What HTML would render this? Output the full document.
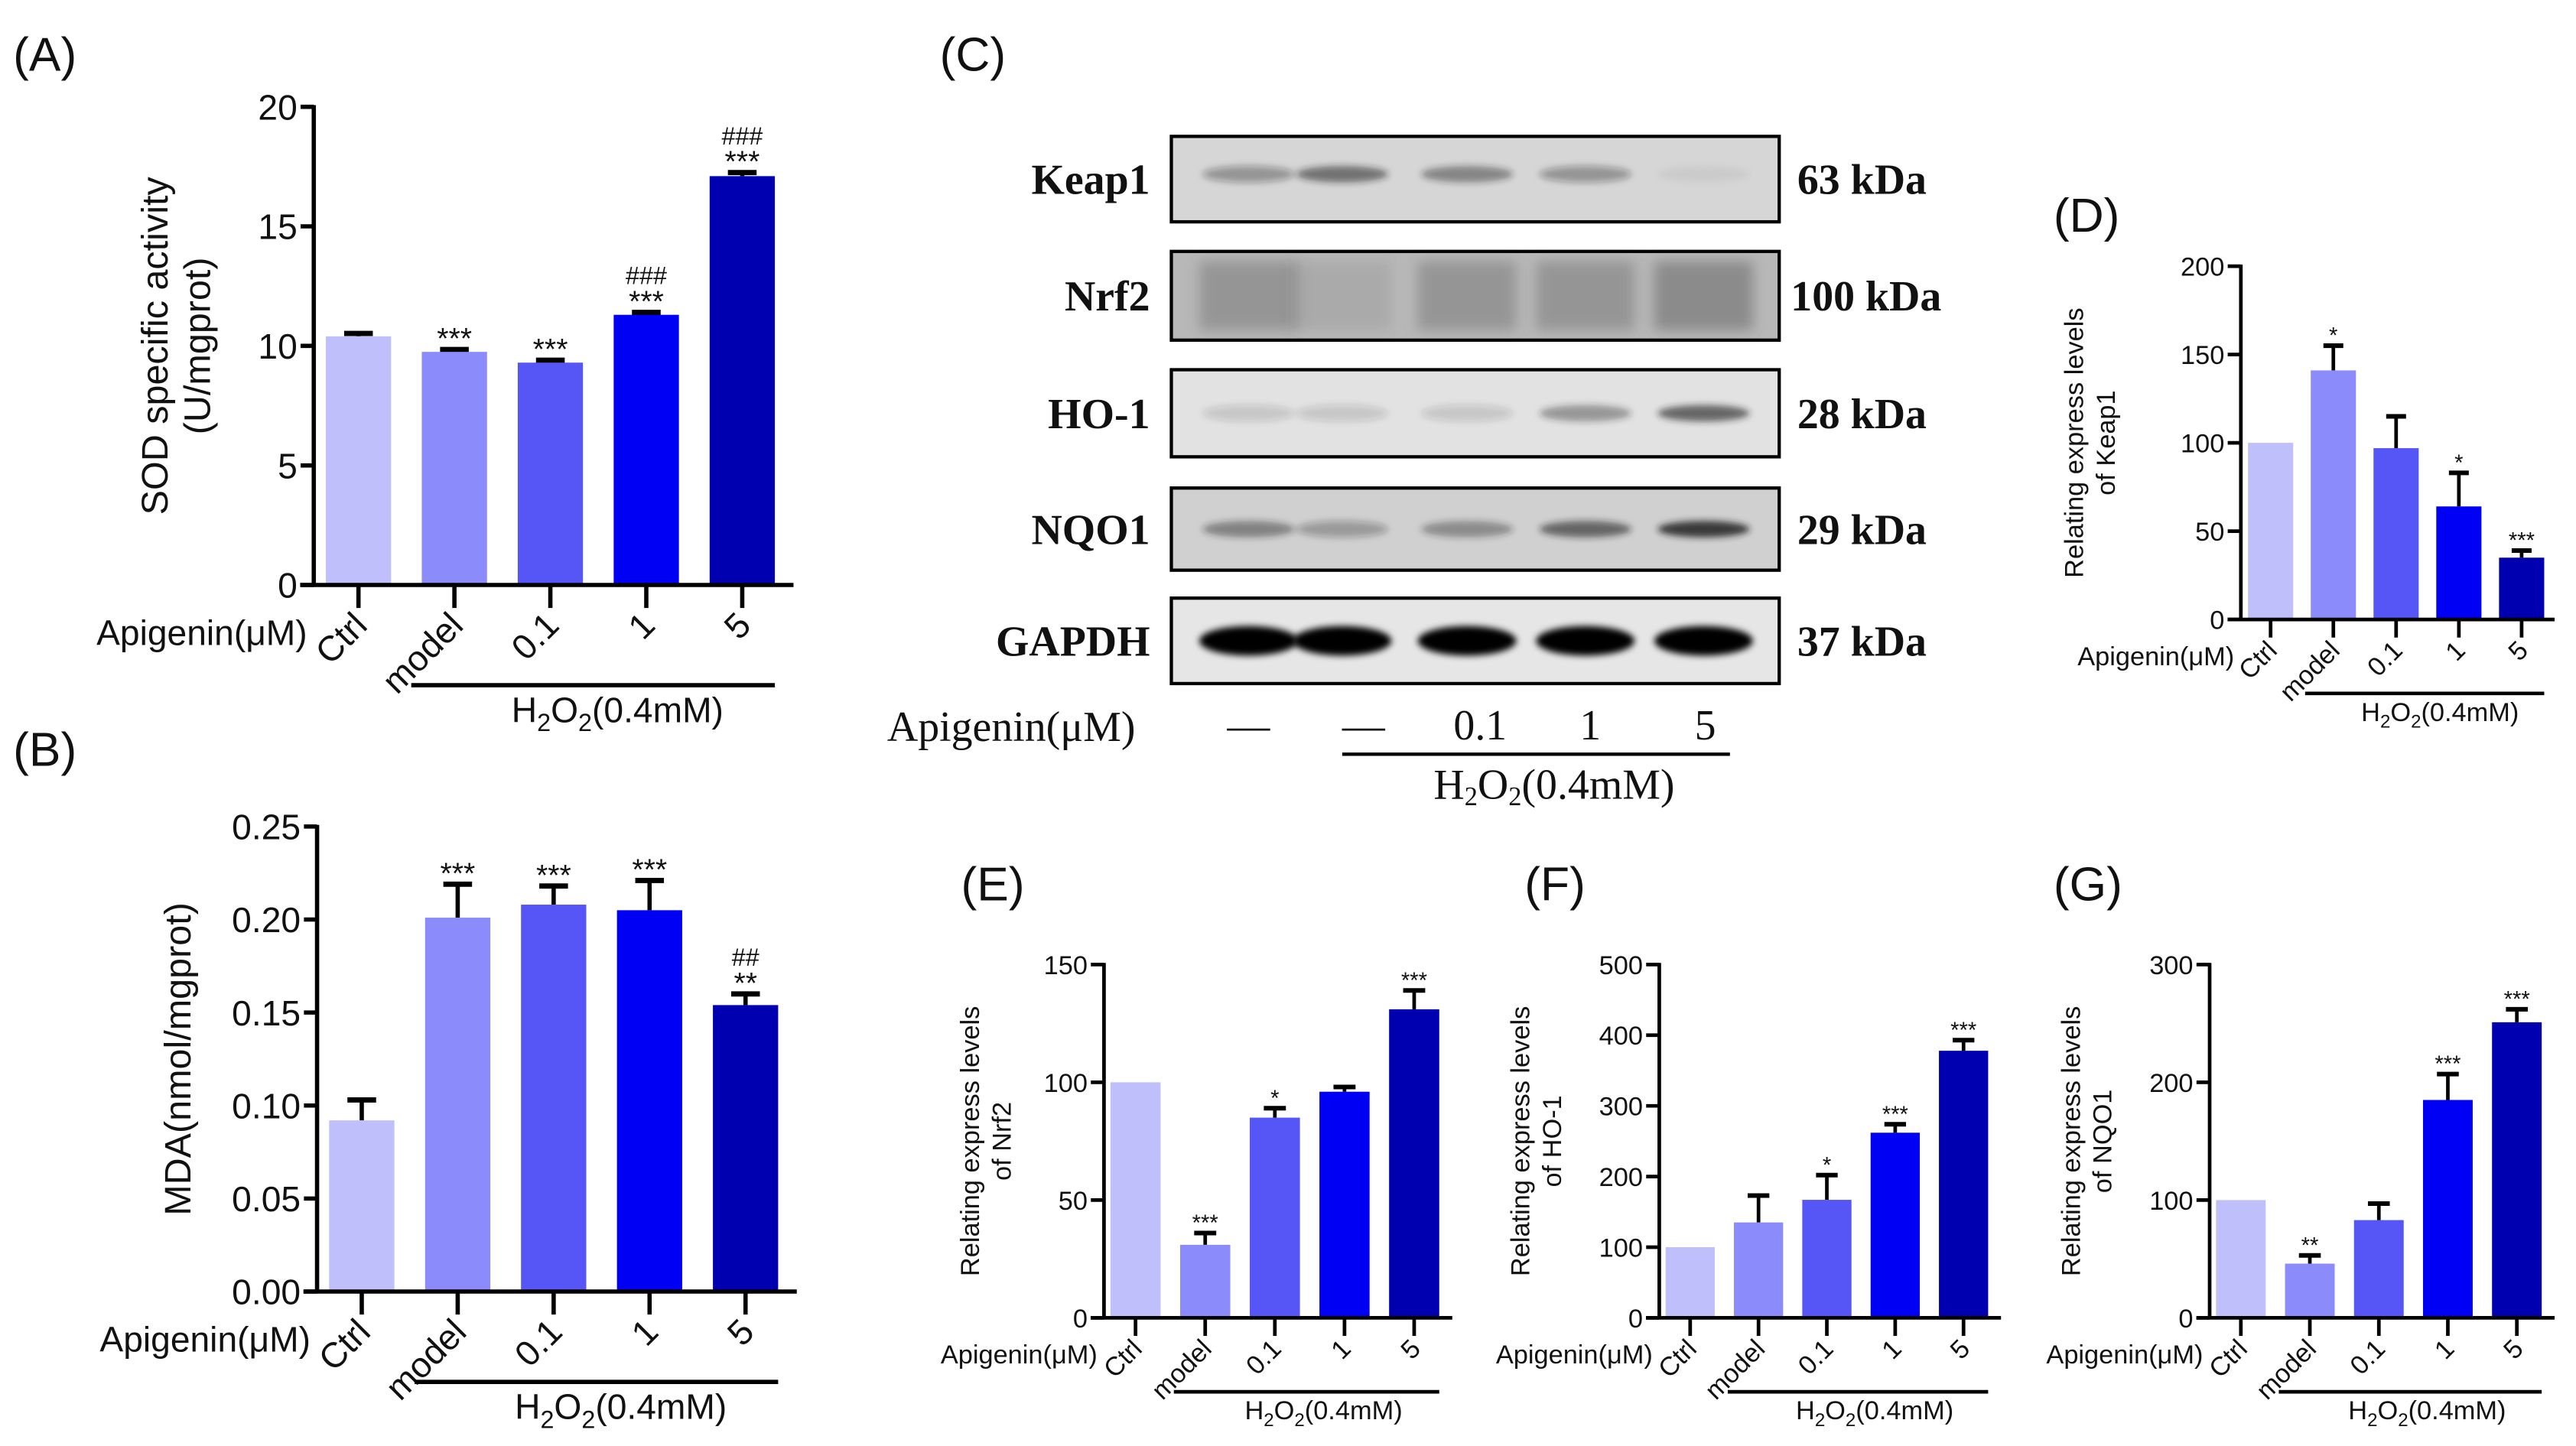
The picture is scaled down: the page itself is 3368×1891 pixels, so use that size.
<!DOCTYPE html>
<html><head><meta charset="utf-8"><style>
html,body{margin:0;padding:0;background:#fff;}
svg{display:block;}
text{font-family:"Liberation Sans",Arial,sans-serif;fill:#111;}
.serif{font-family:"Liberation Serif","Times New Roman",serif;}
</style></head><body>
<svg id="fig" width="3368" height="1891" viewBox="0 0 1568 880" preserveAspectRatio="none" xmlns="http://www.w3.org/2000/svg">
<defs>
<filter id="blur" x="-20%" y="-50%" width="140%" height="200%"><feGaussianBlur stdDeviation="4"/></filter>
<filter id="blur2" x="-20%" y="-50%" width="140%" height="200%"><feGaussianBlur stdDeviation="2"/></filter>
</defs>
<g id="root"></g>
</svg>
<script>
const categories = ["Ctrl","model","0.1","1","5"];
const colors = ["#bfbffc","#8b8bfb","#5656f7","#0000f5","#0000b0"];
// Panel A: SOD
const sodValues = [10.4, 9.75, 9.3, 11.3, 17.1];
const sodErrors = [0.12, 0.1, 0.1, 0.1, 0.15];
const sodMarks = ["", "***", "***", "###\n***", "###\n***"];
const sodTicks = [0,5,10,15,20];
// Panel B: MDA
const mdaValues = [0.092, 0.201, 0.208, 0.205, 0.154];
const mdaErrors = [0.011, 0.018, 0.010, 0.016, 0.006];
const mdaMarks = ["", "***", "***", "***", "##\n**"];
const mdaTicks = [0,0.05,0.10,0.15,0.20,0.25];
// Panel D: Keap1
const keapValues = [100, 141, 97, 64, 35];
const keapErrors = [0, 14, 18, 19, 4];
const keapMarks = ["", "*", "", "*", "***"];
const keapTicks = [0,50,100,150,200];
// Panel E: Nrf2
const nrfValues = [100, 31, 85, 96, 131];
const nrfErrors = [0, 5, 4, 2, 8];
const nrfMarks = ["", "***", "*", "", "***"];
const nrfTicks = [0,50,100,150];
// Panel F: HO-1
const hoValues = [100, 135, 167, 262, 378];
const hoErrors = [0, 38, 35, 12, 15];
const hoMarks = ["", "", "*", "***", "***"];
const hoTicks = [0,100,200,300,400,500];
// Panel G: NQO1
const nqoValues = [100, 46, 83, 185, 251];
const nqoErrors = [0, 7, 14, 22, 11];
const nqoMarks = ["", "**", "", "***", "***"];
const nqoTicks = [0,100,200,300];

const NS="http://www.w3.org/2000/svg";
const root=document.getElementById('root');
function el(tag,attrs,parent){const e=document.createElementNS(NS,tag);for(const k in attrs)e.setAttribute(k,attrs[k]);(parent||root).appendChild(e);return e;}
function txt(s,attrs,parent){const e=el('text',attrs,parent);e.textContent=s;return e;}

function chart(cfg){
  const g=el('g',{});
  
  
  const {x0,x1,yTop,yBot,ymax,fs,big}=cfg;
  const y=v=>yBot-(v/ymax)*(yBot-yTop);
  const n=categories.length, step=(x1-x0)/n;
  const xc=i=>x0+step*(i+0.5)+cfg.shift;
  const bw=step*cfg.bwFrac;
  const lw=big?2.6:2.2;
  cfg.values.forEach((v,i)=>{
    const e=cfg.errors[i];
    if(e>0){
      const ln=el('line',{x1:xc(i),x2:xc(i),y1:y(v),y2:y(v+e),stroke:'#000','stroke-width':lw},g);
      
      
      el('line',{x1:xc(i)-bw*0.22,x2:xc(i)+bw*0.22,y1:y(v+e),y2:y(v+e),stroke:'#000','stroke-width':lw+0.6},g);
    }
    const r=el('rect',{x:xc(i)-bw/2,y:y(v),width:bw,height:yBot-y(v),fill:colors[i]},g);
    
    
    const m=cfg.marks[i];
    if(m){
      const lines=m.split('\n');
      let base=y(v+e)-5;
      for(let k=lines.length-1;k>=0;k--){
        const s=lines[k];
        const isStar=s.indexOf('*')>=0;
        const sz=isStar?fs*0.85:fs*0.7;
        const t=txt(s,{x:xc(i),y:base+(isStar?sz*0.25:0),'text-anchor':'middle','font-size':sz},g);
        
        
        base-= isStar?sz*0.5+3:sz*0.85;
      }
    }
  });
  const ya=el('line',{x1:x0,x2:x0,y1:yTop-1,y2:yBot+1,stroke:'#000','stroke-width':lw},g);
  
  
  const xa=el('line',{x1:x0-lw/2-7,x2:x1,y1:yBot,y2:yBot,stroke:'#000','stroke-width':lw},g);
  
  
  cfg.ticks.forEach(t=>{
    el('line',{x1:x0-8,x2:x0,y1:y(t),y2:y(t),stroke:'#000','stroke-width':lw},g);
    const tl=txt(cfg.fmt(t),{x:x0-10,y:y(t)+fs*0.36,'text-anchor':'end','font-size':fs},g);
    
    
  });
  const tk=big?14:11;
  categories.forEach((c,i)=>{
    el('line',{x1:xc(i),x2:xc(i),y1:yBot,y2:yBot+tk,stroke:'#000','stroke-width':lw},g);
    const lx=xc(i)+fs*0.3, ly=yBot+tk+fs*0.55;
    const t=txt(c,{x:lx,y:ly,'text-anchor':'end','font-size':fs,transform:`rotate(-45 ${lx} ${ly})`},g);
    
    
  });
  const ap=txt('Apigenin(μM)',{x:x0-4,y:yBot+tk+fs*1.05,'text-anchor':'end','font-size':fs},g);
  
  
  const bl=el('line',{x1:xc(1)-step*0.45,x2:xc(4)+bw*0.5,y1:yBot+cfg.lineOff,y2:yBot+cfg.lineOff,stroke:'#000','stroke-width':lw},g);
  
  
  const h=txt('',{x:(xc(1)+xc(4))/2+step*0.2,y:yBot+cfg.lineOff+fs*1.05,'text-anchor':'middle','font-size':fs},g);
  h.innerHTML='H<tspan font-size="'+(fs*0.7)+'" dy="'+(fs*0.25)+'">2</tspan><tspan dy="'+(-fs*0.25)+'">O</tspan><tspan font-size="'+(fs*0.7)+'" dy="'+(fs*0.25)+'">2</tspan><tspan dy="'+(-fs*0.25)+'">(0.4mM)</tspan>';
  
  
  const cx=cfg.titleX, cy=(yTop+yBot)/2;
  cfg.title.forEach((s,k)=>{
    const tx=cx+k*fs*1.2;
    const t=txt(s,{x:tx,y:cy,'text-anchor':'middle','font-size':fs*(big?1.05:1),transform:`rotate(-90 ${tx} ${cy})`},g);
    
    
  });
  const pl=txt(cfg.panel,{x:cfg.px,y:cfg.py,'font-size':29},g);
  
  
}
const f0=t=>String(t), f2=t=>t.toFixed(2);
chart({name:'sod-chart',panel:'(A)',px:8,py:43,values:sodValues,errors:sodErrors,marks:sodMarks,ticks:sodTicks,ymax:20,fmt:f0,
  x0:191,x1:483,yTop:65,yBot:356,fs:21.5,big:true,bwFrac:0.68,shift:-2,lineOff:61,titleX:102,title:['SOD specific activity','(U/mgprot)']});
chart({name:'mda-chart',panel:'(B)',px:8,py:466,values:mdaValues,errors:mdaErrors,marks:mdaMarks,ticks:mdaTicks,ymax:0.25,fmt:f2,
  x0:193,x1:485,yTop:503,yBot:786,fs:21.5,big:true,bwFrac:0.68,shift:-2,lineOff:55,titleX:116,title:['MDA(nmol/mgprot)']});
chart({name:'keap1-chart',panel:'(D)',px:1250,py:141,values:keapValues,errors:keapErrors,marks:keapMarks,ticks:keapTicks,ymax:200,fmt:f0,
  x0:1364,x1:1555,yTop:162,yBot:377,fs:16,big:false,bwFrac:0.72,shift:-1,lineOff:45,titleX:1268,title:['Relating express levels','of Keap1']});
chart({name:'nrf2-chart',panel:'(E)',px:585,py:548,values:nrfValues,errors:nrfErrors,marks:nrfMarks,ticks:nrfTicks,ymax:150,fmt:f0,
  x0:672,x1:884,yTop:587,yBot:802,fs:16,big:false,bwFrac:0.72,shift:-2,lineOff:45,titleX:596,title:['Relating express levels','of Nrf2']});
chart({name:'ho1-chart',panel:'(F)',px:928,py:548,values:hoValues,errors:hoErrors,marks:hoMarks,ticks:hoTicks,ymax:500,fmt:f0,
  x0:1010,x1:1218,yTop:587,yBot:802,fs:16,big:false,bwFrac:0.72,shift:-2,lineOff:45,titleX:931,title:['Relating express levels','of HO-1']});
chart({name:'nqo1-chart',panel:'(G)',px:1250,py:548,values:nqoValues,errors:nqoErrors,marks:nqoMarks,ticks:nqoTicks,ymax:300,fmt:f0,
  x0:1345,x1:1555,yTop:587,yBot:802,fs:16,big:false,bwFrac:0.72,shift:-2,lineOff:45,titleX:1266,title:['Relating express levels','of NQO1']});

// Panel C: western blot
const blotNames = ["Keap1","Nrf2","HO-1","NQO1","GAPDH"];
const blotKda = ["63 kDa","100 kDa","28 kDa","29 kDa","37 kDa"];
const blotTops = [83,153,225,297,364];
const blotBottoms = [135,207,278,347,416];
const blotBg = ["#d6d6d6","#b8b8b8","#e2e2e2","#d0d0d0","#e6e6e6"];
const bandIntensity = [
  [0.35,0.55,0.45,0.35,0.05],
  [0.35,0.15,0.35,0.35,0.45],
  [0.15,0.15,0.15,0.4,0.65],
  [0.45,0.3,0.4,0.6,0.85],
  [1,1,1,1,1]];
const laneX = [760,817,893,965,1037];
const lanePlus = ["—","—","0.1","1","5"];
const gC=el('g',{});


const pc=txt('(C)',{x:572,y:43,'font-size':29},gC);


blotNames.forEach((nm,r)=>{
  const t=blotTops[r], b=blotBottoms[r];
  const box=el('rect',{x:713,y:t,width:370,height:b-t,fill:blotBg[r],stroke:'#000','stroke-width':2},gC);
  
  
  const mid=(t+b)/2;
  laneX.forEach((lx,i)=>{
    const a=bandIntensity[r][i];
    if(r===4){
      el('ellipse',{cx:lx,cy:mid,rx:30,ry:9,fill:'#000',filter:'url(#blur2)'},gC);
    }else if(r===1){
      el('rect',{x:lx-30,y:t+6,width:60,height:b-t-12,fill:'#555','fill-opacity':a,filter:'url(#blur)'},gC);
    }else{
      el('ellipse',{cx:lx,cy:mid-(r===0?3:0),rx:28,ry:5,fill:'#222','fill-opacity':a,filter:'url(#blur2)'},gC);
    }
  });
  const ln=txt(nm,{x:700,y:mid+9,'text-anchor':'end','font-size':26,'font-weight':'bold',class:'serif'},gC);
  
  
  const kd=txt(blotKda[r],{x:r===1?1090:1094,y:mid+9,'font-size':26,'font-weight':'bold',class:'serif'},gC);
  
  
});
const apC=txt('Apigenin(μM)',{x:540,y:451,'font-size':26,class:'serif'},gC);


const lanePos=[760,830,901,968,1038];
lanePlus.forEach((s,i)=>{
  const t=txt(s,{x:lanePos[i],y:450,'text-anchor':'middle','font-size':26,class:'serif'},gC);
  
  
});
const bc=el('line',{x1:817,x2:1053,y1:459,y2:459,stroke:'#000','stroke-width':2},gC);


const hc=txt('',{x:946,y:486,'text-anchor':'middle','font-size':26,class:'serif'},gC);
hc.innerHTML='H<tspan font-size="16" dy="4">2</tspan><tspan dy="-4">O</tspan><tspan font-size="16" dy="4">2</tspan><tspan dy="-4">(0.4mM)</tspan>';


</script>
</body></html>
